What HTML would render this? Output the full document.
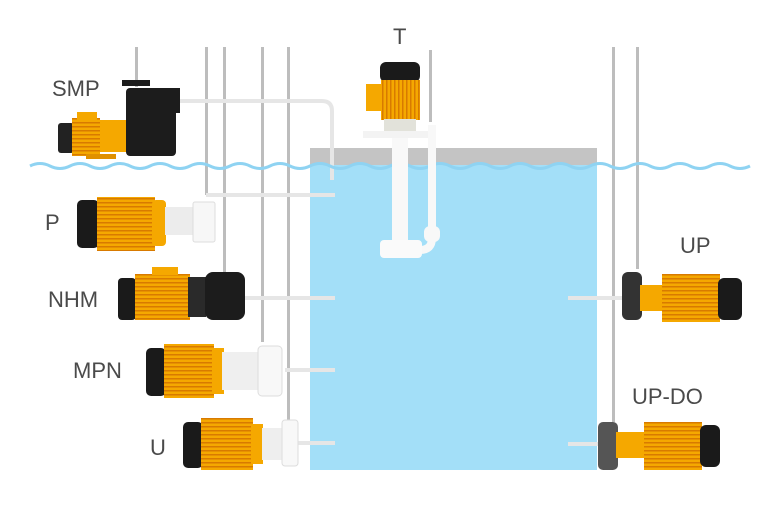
<!DOCTYPE html>
<html><head><meta charset="utf-8"><style>
body{margin:0;background:#fff;}
svg{display:block}
text{font-family:"Liberation Sans",sans-serif;font-size:22px;fill:#4a4a4a}
</style></head><body>
<svg width="768" height="512" viewBox="0 0 768 512" xmlns="http://www.w3.org/2000/svg">
<defs>
<pattern id="st" width="4" height="4" patternUnits="userSpaceOnUse"><rect width="4" height="4" fill="#f5a800"/><rect y="2" width="4" height="1.5" fill="#d87a00"/></pattern>
<pattern id="sv" width="4" height="4" patternUnits="userSpaceOnUse"><rect width="4" height="4" fill="#f5a800"/><rect x="2" width="1.5" height="4" fill="#d87a00"/></pattern>
</defs>
<!-- tank -->
<rect x="310" y="148" width="287" height="20" fill="#c4c4c4"/>
<rect x="310" y="165" width="287" height="305" fill="#a3dff8"/>
<!-- gray pipes -->
<g fill="#bdbdbd">
<rect x="135" y="47" width="3" height="40"/>
<rect x="205" y="47" width="3" height="148"/>
<rect x="223" y="47" width="3" height="225"/>
<rect x="261" y="47" width="3" height="295"/>
<rect x="287" y="47" width="3" height="375"/>
<rect x="429" y="50" width="3" height="72"/>
<rect x="612" y="47" width="3" height="375"/>
<rect x="636" y="47" width="3" height="222"/>
</g>
<!-- white connector pipes -->
<g fill="none" stroke="#e6e6e6" stroke-width="4">
<path d="M180 101 H322 Q332 101 332 111 V180"/>
<path d="M206 195 H335"/>
<path d="M245 298 H335"/>
<path d="M285 370 H335"/>
<path d="M298 443 H335"/>
<path d="M568 298 H630"/>
<path d="M568 444 H600"/>
</g>
<!-- wave -->
<path d="M30 166 q10 -5 20 0 t20 0 t20 0 t20 0 t20 0 t20 0 t20 0 t20 0 t20 0 t20 0 t20 0 t20 0 t20 0 t20 0 t20 0 t20 0 t20 0 t20 0 t20 0 t20 0 t20 0 t20 0 t20 0 t20 0 t20 0 t20 0 t20 0 t20 0 t20 0 t20 0 t20 0 t20 0 t20 0 t20 0 t20 0 t20 0" fill="none" stroke="#8fd3f2" stroke-width="3"/>
<!-- SMP -->
<rect x="58" y="123" width="16" height="30" rx="3" fill="#222"/>
<rect x="72" y="118" width="28" height="38" fill="url(#st)"/>
<rect x="77" y="112" width="20" height="8" fill="#f5a800"/>
<rect x="100" y="120" width="26" height="32" fill="#f5a800"/>
<rect x="86" y="154" width="30" height="5" fill="#e09000"/>
<rect x="126" y="88" width="50" height="68" rx="4" fill="#1c1c1c"/>
<rect x="122" y="80" width="28" height="6" fill="#1c1c1c"/>
<rect x="172" y="88" width="8" height="25" fill="#1c1c1c"/>
<!-- P -->
<rect x="77" y="200" width="22" height="48" rx="5" fill="#1a1a1a"/>
<rect x="97" y="197" width="58" height="54" fill="url(#st)"/>
<rect x="152" y="200" width="14" height="46" rx="4" fill="#f5a800"/>
<rect x="165" y="207" width="30" height="28" fill="#ececec"/>
<rect x="193" y="202" width="22" height="40" rx="2" fill="#f7f7f7" stroke="#ddd"/>
<!-- NHM -->
<rect x="118" y="278" width="18" height="42" rx="4" fill="#1a1a1a"/>
<rect x="135" y="274" width="55" height="46" fill="url(#st)"/>
<rect x="152" y="267" width="26" height="8" fill="#f5a800"/>
<rect x="188" y="277" width="18" height="40" fill="#2a2a2a"/>
<rect x="205" y="272" width="40" height="48" rx="8" fill="#1c1c1c"/>
<!-- MPN -->
<rect x="146" y="348" width="20" height="48" rx="5" fill="#1a1a1a"/>
<rect x="164" y="344" width="50" height="54" fill="url(#st)"/>
<rect x="212" y="348" width="12" height="46" fill="#f5a800"/>
<rect x="222" y="352" width="40" height="38" fill="#efefef"/>
<rect x="258" y="346" width="24" height="50" rx="4" fill="#f8f8f8" stroke="#ddd"/>
<!-- U -->
<rect x="183" y="422" width="20" height="46" rx="5" fill="#1a1a1a"/>
<rect x="201" y="418" width="52" height="52" fill="url(#st)"/>
<rect x="251" y="424" width="12" height="40" fill="#f5a800"/>
<rect x="262" y="428" width="22" height="32" fill="#eee"/>
<rect x="282" y="420" width="16" height="46" rx="3" fill="#f8f8f8" stroke="#ddd"/>
<!-- T -->
<rect x="380" y="62" width="40" height="20" rx="6" fill="#1a1a1a"/>
<rect x="366" y="84" width="18" height="27" fill="#f5a800"/>
<rect x="381" y="80" width="39" height="40" fill="url(#sv)"/>
<rect x="384" y="119" width="32" height="12" fill="#e2e2da"/>
<rect x="363" y="131" width="68" height="7" fill="#f3f3f3"/>
<rect x="392" y="138" width="16" height="115" fill="#f8f8f8"/>
<path d="M432 125 V238 Q432 250 420 250" fill="none" stroke="#f8f8f8" stroke-width="8"/>
<rect x="424" y="226" width="16" height="16" rx="6" fill="#f8f8f8"/>
<rect x="380" y="240" width="42" height="18" rx="4" fill="#fafafa"/>
<!-- UP -->
<rect x="622" y="272" width="20" height="48" rx="6" fill="#333"/>
<rect x="640" y="285" width="25" height="26" fill="#f5a800"/>
<rect x="662" y="274" width="58" height="48" fill="url(#st)"/>
<rect x="718" y="278" width="24" height="42" rx="6" fill="#1a1a1a"/>
<!-- UP-DO -->
<rect x="598" y="422" width="20" height="48" rx="5" fill="#555"/>
<rect x="616" y="432" width="30" height="26" fill="#f5a800"/>
<rect x="644" y="422" width="58" height="48" fill="url(#st)"/>
<rect x="700" y="425" width="20" height="42" rx="6" fill="#1a1a1a"/>
<!-- labels -->
<text x="52" y="96">SMP</text>
<text x="45" y="230">P</text>
<text x="48" y="307">NHM</text>
<text x="73" y="378">MPN</text>
<text x="150" y="455">U</text>
<text x="393" y="44">T</text>
<text x="680" y="253">UP</text>
<text x="632" y="404">UP-DO</text>
</svg>
</body></html>
